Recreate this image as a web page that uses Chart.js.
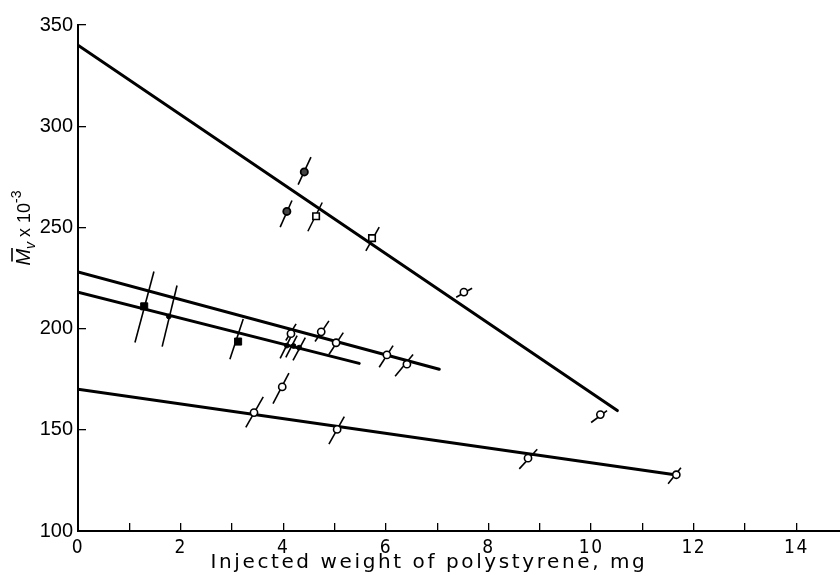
<!DOCTYPE html>
<html><head><meta charset="utf-8">
<script src="https://cdn.jsdelivr.net/npm/chart.js@4.4.1/dist/chart.umd.min.js"></script>
<style>html,body{margin:0;padding:0;background:#fff}</style>
</head><body>
<canvas id="c" width="840" height="575"></canvas>
<script>
// ---- data ----
const xTickValues = [0, 2, 4, 6, 8, 10, 12, 14];
const yTickValues = [100, 150, 200, 250, 300, 350];

const fitLineA = [[0, 340], [10.51, 159.5]];
const fitLineB = [[0, 228], [7.04, 179.9]];
const fitLineC = [[0, 218], [5.48, 182.8]];
const fitLineD = [[0, 170], [11.7, 127.5]];

const openCircles = [[7.52, 218], [10.18, 157.5], [4.15, 197.5], [4.74, 198.4], [5.03, 193], [6.02, 187], [6.41, 182.4],
                     [3.98, 171.2], [3.43, 158.5], [5.05, 150.2], [8.77, 136], [11.66, 127.8]];
const darkCircles = [[4.41, 277.4], [4.07, 257.9]];
const openSquares = [[4.64, 255.5], [5.73, 244.7]];
const filledSquares = [[1.29, 211], [3.12, 193.6]];
const smallDots = [[1.77, 206], [4.07, 191.6], [4.2, 191.4], [4.31, 190.6]];

// tilted error bars: low end / high end
const errLow = [[4.29, 271.1], [3.94, 250.1], [4.48, 248.1], [5.61, 238.4], [7.37, 215.5], [10.0, 153.6],
                [1.11, 193.1], [1.64, 191.1], [2.96, 184.8], [4.05, 194.1], [3.94, 185.3], [4.05, 185.8], [4.19, 184.3],
                [4.62, 193.6], [4.89, 187.2], [5.87, 180.9], [6.18, 176.5],
                [3.80, 162.9], [3.27, 151.2], [4.89, 142.9], [8.60, 130.7], [11.50, 123.4]];
const errHigh = [[4.54, 284.7], [4.17, 263.3], [4.76, 262.3], [5.87, 250.1], [7.68, 219.9], [10.31, 159.5],
                 [1.48, 228.2], [1.93, 221.3], [3.22, 204.8], [4.25, 202.3], [4.17, 197], [4.27, 196.5], [4.43, 195.5],
                 [4.89, 203.8], [5.17, 198], [6.14, 191.6], [6.53, 187.2],
                 [4.11, 178], [3.61, 166.3], [5.19, 156.5], [8.95, 140.4], [11.75, 131.2]];

const xTitle = 'Injected weight of polystyrene, mg';

// ---- build datasets ----
const pts = a => a.map(p => ({x: p[0], y: p[1]}));
const datasets = [];
[fitLineA, fitLineB, fitLineC, fitLineD].forEach(l => datasets.push({
  data: pts(l), showLine: true, borderColor: '#000', borderWidth: 3, pointRadius: 0, order: 3, borderCapStyle: 'round'
}));
errLow.forEach((lo, i) => datasets.push({
  data: pts([lo, errHigh[i]]), showLine: true, borderColor: '#000', borderWidth: 1.6, pointRadius: 0, order: 2
}));
datasets.push({data: pts(openCircles), pointStyle: 'circle', pointRadius: 3.6, pointBackgroundColor: '#fff',
  pointBorderColor: '#000', pointBorderWidth: 1.6, order: 0});
datasets.push({data: pts(darkCircles), pointStyle: 'circle', pointRadius: 3.6, pointBackgroundColor: '#444',
  pointBorderColor: '#000', pointBorderWidth: 1.8, order: 0});
datasets.push({data: pts(openSquares), pointStyle: 'rect', pointRadius: 4.6, pointBackgroundColor: '#fff',
  pointBorderColor: '#000', pointBorderWidth: 1.6, order: 0});
datasets.push({data: pts(filledSquares), pointStyle: 'rect', pointRadius: 5, pointBackgroundColor: '#000',
  pointBorderColor: '#000', pointBorderWidth: 1, order: 0});
datasets.push({data: pts(smallDots), pointStyle: 'circle', pointRadius: 2.4, pointBackgroundColor: '#000',
  pointBorderColor: '#000', pointBorderWidth: 1, order: 0});

// letter spacing for the x-axis texts (the reference uses a spaced face); title sits left of centre
const spacingPlugin = {
  id: 'spacing',
  afterLayout(chart) {
    const s = chart.scales.x;
    if (s._spaced) return;
    const dt = s.drawTitle, dl = s.drawLabels;
    s.drawTitle = function () { const c = this.ctx; c.save(); c.letterSpacing = '2.6px'; c.translate(-30, 0); dt.apply(this, arguments); c.restore(); };
    s.drawLabels = function () { const c = this.ctx; c.save(); c.letterSpacing = '1.5px'; dl.apply(this, arguments); c.restore(); };
    s._spaced = true;
  }
};

// y-axis title with italic M, macron, subscript v and superscript -3
const yTitlePlugin = {
  id: 'yTitle',
  afterDraw(chart) {
    const ctx = chart.ctx;
    const a = chart.chartArea;
    ctx.save();
    ctx.translate(30, (a.top + a.bottom) / 2 - 50);
    ctx.rotate(-Math.PI / 2);
    ctx.fillStyle = '#000';
    ctx.strokeStyle = '#000';
    ctx.textBaseline = 'alphabetic';
    const parts = [
      {t: 'M', f: 'italic 20px "Liberation Sans"', dy: 0},
      {t: 'v', f: 'italic 14px "Liberation Sans"', dy: 5},
      {t: ' x 10', f: '18px "Liberation Sans"', dy: 0},
      {t: '-3', f: '14px "Liberation Sans"', dy: -9}
    ];
    let total = 0;
    parts.forEach(p => { ctx.font = p.f; p.w = ctx.measureText(p.t).width; total += p.w; });
    let x = -total / 2;
    parts.forEach((p, i) => {
      ctx.font = p.f;
      ctx.fillText(p.t, x, p.dy);
      if (i === 0) { // macron over M
        ctx.lineWidth = 1.6;
        ctx.beginPath(); ctx.moveTo(x + 4, -18); ctx.lineTo(x + p.w + 1, -18); ctx.stroke();
      }
      x += p.w;
    });
    ctx.restore();
  }
};

new Chart(document.getElementById('c'), {
  type: 'scatter',
  data: {datasets},
  plugins: [yTitlePlugin, spacingPlugin],
  options: {
    responsive: false,
    animation: false,
    layout: {autoPadding: false, padding: {top: 18, right: 0, left: 0, bottom: 0}},
    plugins: {legend: {display: false}, tooltip: {enabled: false}},
    scales: {
      x: {
        type: 'linear', min: 0, max: 14.85,
        afterFit: s => { s.height = 44; s.paddingRight = 0; s.paddingLeft = 0; },
        border: {color: '#000', width: 2},
        grid: {drawOnChartArea: false, color: '#000', lineWidth: 1.3, tickLength: -8},
        ticks: {
          stepSize: 1, includeBounds: false, autoSkip: false, maxRotation: 0, color: '#000', padding: 14,
          font: {family: 'DejaVu Sans Condensed', size: 19},
          callback: v => xTickValues.includes(v) ? String(v) : ''
        },
        title: {display: true, text: xTitle, color: '#000', padding: 0,
          font: {family: 'DejaVu Sans', size: 20}}
      },
      y: {
        type: 'linear', min: 100, max: 350,
        afterFit: s => { s.width = 78; },
        border: {color: '#000', width: 2},
        grid: {drawOnChartArea: false, color: '#000', lineWidth: 1.3, tickLength: -8},
        ticks: {
          stepSize: 50, color: '#000', padding: 13,
          font: {family: 'Liberation Sans', size: 20},
          callback: v => yTickValues.includes(v) ? String(v) : ''
        }
      }
    }
  }
});
</script>
</body></html>
